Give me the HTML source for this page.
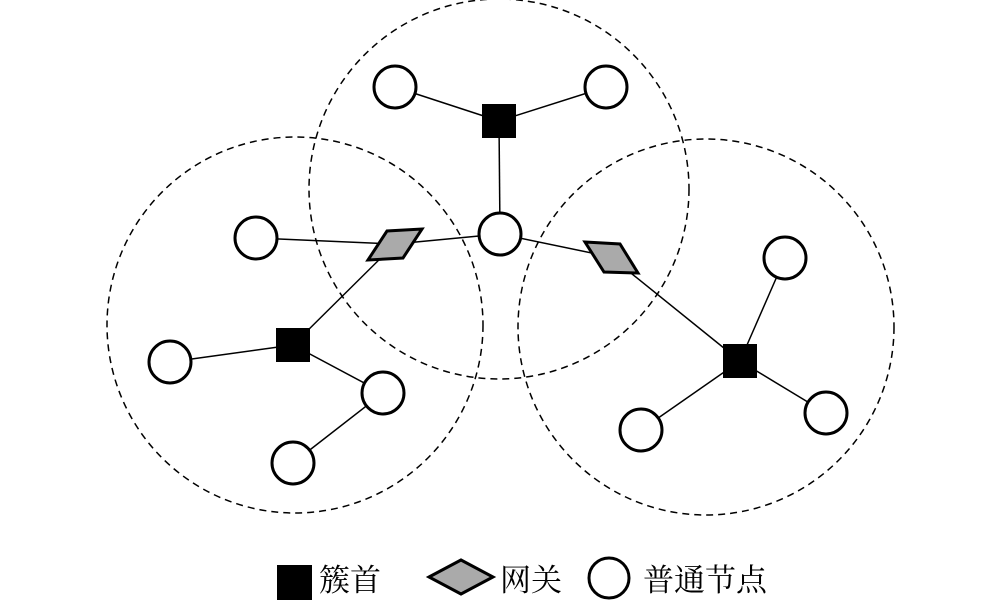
<!DOCTYPE html>
<html><head><meta charset="utf-8"><style>html,body{margin:0;padding:0;background:#fff}</style></head>
<body>
<svg width="1000" height="602" viewBox="0 0 1000 602" xmlns="http://www.w3.org/2000/svg">
<g fill="none" stroke="#000" stroke-width="1.5" stroke-dasharray="7,5">
<circle cx="499" cy="189" r="190"/>
<circle cx="295" cy="325" r="188"/>
<circle cx="706" cy="327" r="188"/>
</g>
<g stroke="#000" stroke-width="1.5">
<line x1="395" y1="87" x2="499" y2="121"/>
<line x1="606" y1="87" x2="499" y2="121"/>
<line x1="499" y1="121" x2="500" y2="234"/>
<line x1="256" y1="238" x2="395" y2="244"/>
<line x1="395" y1="244" x2="500" y2="234"/>
<line x1="395" y1="244" x2="293" y2="345"/>
<line x1="293" y1="345" x2="170" y2="362"/>
<line x1="293" y1="345" x2="383" y2="393"/>
<line x1="383" y1="393" x2="293" y2="463"/>
<line x1="500" y1="234" x2="611" y2="257"/>
<line x1="611" y1="257" x2="740" y2="361"/>
<line x1="740" y1="361" x2="785" y2="258"/>
<line x1="740" y1="361" x2="826" y2="413"/>
<line x1="740" y1="361" x2="641" y2="430"/>
</g>
<g fill="#fff" stroke="#000" stroke-width="3">
<circle cx="395" cy="87" r="21"/>
<circle cx="606" cy="87" r="21"/>
<circle cx="500" cy="234" r="21"/>
<circle cx="256" cy="238" r="21"/>
<circle cx="170" cy="362" r="21"/>
<circle cx="383" cy="393" r="21"/>
<circle cx="293" cy="463" r="21"/>
<circle cx="785" cy="258" r="21"/>
<circle cx="826" cy="413" r="21"/>
<circle cx="641" cy="430" r="21"/>
<circle cx="609" cy="578" r="20"/>
</g>
<g fill="#000">
<rect x="482" y="104" width="34" height="34"/>
<rect x="276" y="328" width="34" height="34"/>
<rect x="723" y="344" width="34" height="34"/>
<rect x="277" y="565" width="35" height="35"/>
</g>
<g fill="#aaa" stroke="#000" stroke-width="3" stroke-linejoin="miter">
<polygon points="368,260 387,231 422,229 403,258"/>
<polygon points="585,242 620,244 638,273 604,272"/>
<polygon points="429,577 461,560 493,577 461,594"/>
</g>
<g font-family="'Liberation Serif','Noto Serif CJK SC',serif" font-size="31" fill="#000">
<text x="319" y="591">簇首</text>
<text x="500" y="591">网关</text>
<text x="643" y="591">普通节点</text>
</g>
</svg>
</body></html>
